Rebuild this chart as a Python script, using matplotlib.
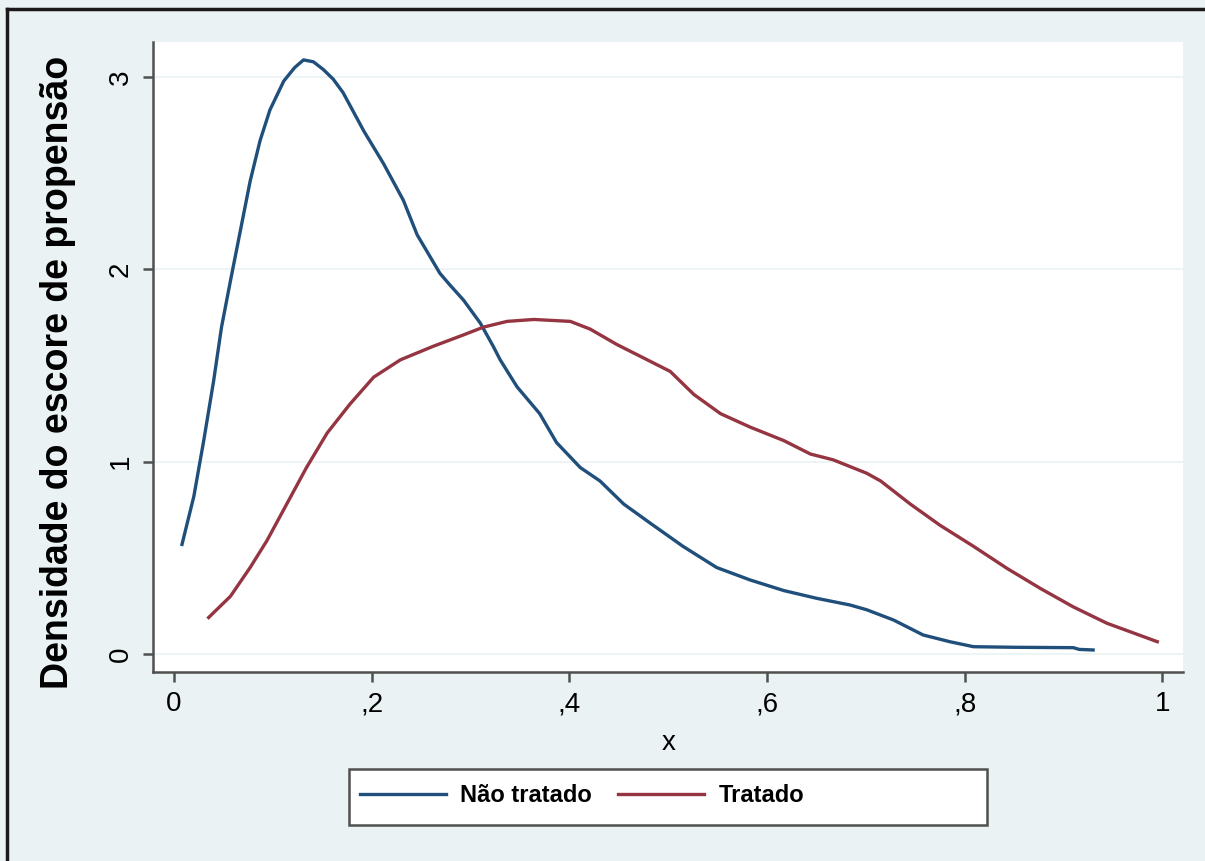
import matplotlib
matplotlib.use("Agg")
import matplotlib.pyplot as plt
from matplotlib.lines import Line2D
from matplotlib.patches import Rectangle

# kernel density of the propensity score, by group
x_nao_tratado = [0.008, 0.020, 0.030, 0.040, 0.048, 0.057, 0.067, 0.077, 0.087, 0.097,
                 0.111, 0.122, 0.131, 0.141, 0.151, 0.161, 0.171, 0.192, 0.212, 0.232,
                 0.246, 0.269, 0.279, 0.293, 0.310, 0.323, 0.330, 0.347, 0.370, 0.387,
                 0.411, 0.431, 0.455, 0.482, 0.515, 0.549, 0.583, 0.617, 0.650, 0.684,
                 0.701, 0.728, 0.758, 0.785, 0.809, 0.850, 0.910, 0.916, 0.930]
y_nao_tratado = [0.57, 0.82, 1.11, 1.42, 1.70, 1.94, 2.20, 2.46, 2.67, 2.83,
                 2.98, 3.05, 3.09, 3.08, 3.04, 2.99, 2.92, 2.72, 2.55, 2.36,
                 2.18, 1.98, 1.92, 1.84, 1.72, 1.60, 1.53, 1.39, 1.25, 1.10,
                 0.97, 0.90, 0.78, 0.68, 0.56, 0.45, 0.385, 0.33, 0.29, 0.255,
                 0.23, 0.177, 0.099, 0.064, 0.038, 0.035, 0.033, 0.024, 0.021]

x_tratado = [0.035, 0.057, 0.077, 0.094, 0.114, 0.134, 0.155, 0.178, 0.202, 0.229,
             0.262, 0.293, 0.313, 0.337, 0.364, 0.401, 0.421, 0.448, 0.475, 0.502,
             0.526, 0.553, 0.583, 0.617, 0.644, 0.667, 0.701, 0.715, 0.745, 0.775,
             0.809, 0.843, 0.877, 0.910, 0.944, 0.995]
y_tratado = [0.19, 0.30, 0.45, 0.59, 0.78, 0.97, 1.15, 1.30, 1.44, 1.53,
             1.60, 1.66, 1.70, 1.73, 1.74, 1.73, 1.69, 1.61, 1.54, 1.47,
             1.35, 1.25, 1.18, 1.11, 1.04, 1.01, 0.94, 0.90, 0.78, 0.67,
             0.56, 0.445, 0.34, 0.245, 0.16, 0.064]

x_ticks = [0, 0.2, 0.4, 0.6, 0.8, 1]
x_tick_labels = ["0", ",2", ",4", ",6", ",8", "1"]
y_ticks = [0, 1, 2, 3]
y_tick_labels = ["0", "1", "2", "3"]

BG = "#eaf2f4"
AXIS = "#505050"

plt.rcParams["font.family"] = ["Liberation Sans", "DejaVu Sans"]

fig = plt.figure(figsize=(12.05, 8.61), dpi=100, facecolor=BG)
ax = fig.add_axes([0.127, 0.2195, 0.855, 0.7317])
ax.set_facecolor("white")

for t in y_ticks:
    ax.axhline(t, color=BG, lw=1.2, zorder=1)

ax.plot(x_nao_tratado, y_nao_tratado, color="#1f4f7a", lw=2.4, label="Não tratado", zorder=3)
ax.plot(x_tratado, y_tratado, color="#943541", lw=2.4, label="Tratado", zorder=3)

ax.set_xlim(-0.0213, 1.0213)
ax.set_ylim(-0.0936, 3.183)

ax.set_xticks(x_ticks)
ax.set_xticklabels(x_tick_labels)
ax.set_yticks(y_ticks)
ax.set_yticklabels(y_tick_labels, rotation=90, va="center")

for side in ["top", "right"]:
    ax.spines[side].set_visible(False)
for side in ["left", "bottom"]:
    ax.spines[side].set_color(AXIS)
    ax.spines[side].set_linewidth(1.8)

ax.tick_params(axis="both", length=7, width=1.8, color=AXIS, labelsize=20)
ax.tick_params(axis="x", pad=7)
ax.tick_params(axis="y", pad=7)

ax.set_xlabel("x", fontsize=20, labelpad=9)
ax.set_ylabel("Densidade do escore de propensão", fontsize=27, fontweight="bold")
ax.yaxis.set_label_coords(-0.075, 0.476)

# legend box spans a fixed strip under the plot
fig.add_artist(Rectangle((349 / 1205, 36 / 861), 638 / 1205, 56 / 861,
                         transform=fig.transFigure, facecolor="white",
                         edgecolor=AXIS, lw=1.8, zorder=1))
leg = fig.legend(loc="center left", bbox_to_anchor=(360 / 1205, 65 / 861),
                 ncol=2, frameon=False, prop={"weight": "bold", "size": 17},
                 handlelength=3.65, handletextpad=0.6, columnspacing=1.1,
                 borderpad=0, borderaxespad=0)
leg.set_zorder(2)

# frame lines along the top and left edges
fig.add_artist(Line2D([0.0058, 1], [0.9895, 0.9895], color="#1a1a1a", lw=2.5,
                      transform=fig.transFigure))
fig.add_artist(Line2D([0.0058, 0.0058], [0, 0.9895], color="#1a1a1a", lw=2.5,
                      transform=fig.transFigure))

fig.savefig("out.png", dpi=100, facecolor=BG)
